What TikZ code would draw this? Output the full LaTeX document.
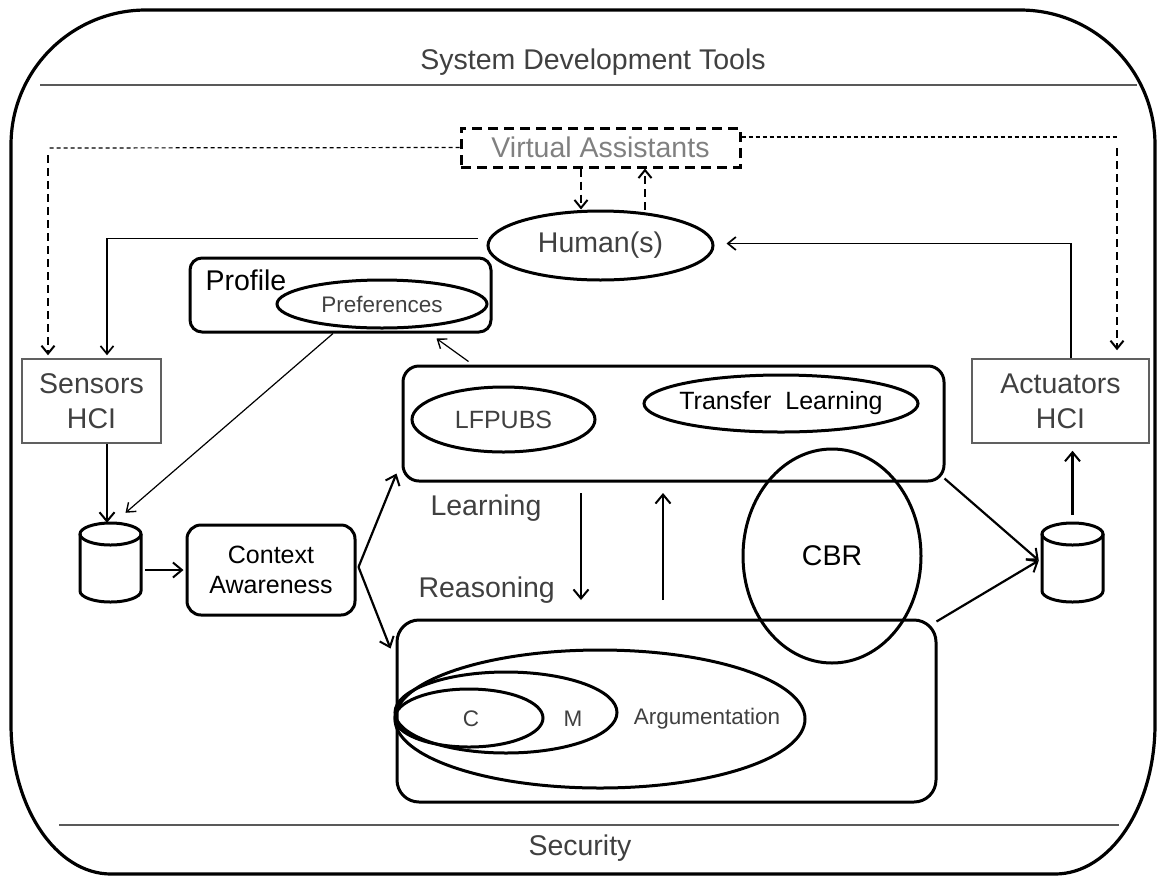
\documentclass[tikz,border=0pt]{standalone}
\usepackage{fontspec}
\setmainfont{Liberation Sans}
\usetikzlibrary{arrows.meta,shapes.geometric,calc}
\definecolor{txt}{HTML}{404040}
\definecolor{vagray}{HTML}{808080}
\definecolor{boxgray}{HTML}{606060}
\definecolor{sepgray}{HTML}{595959}
\newcommand\dbcyl[3]{%
  \node[draw=none, minimum width=61pt, minimum height=79pt, inner sep=0pt] (#1) at (#2,#3) {};
  \draw[line width=3pt] (#2,{#3-28.5}) ellipse [x radius=30.5pt, y radius=11pt];
  \draw[line width=3pt] ({#2-30.5},{#3-28.5}) -- ({#2-30.5},{#3+28.5})
     arc[start angle=180, end angle=360, x radius=30.5pt, y radius=11pt] -- ({#2+30.5},{#3-28.5});
}
\begin{document}
\begin{tikzpicture}[x=1pt,y=-1pt,
  bigtxt/.style={font=\fontsize{28.5}{35}\selectfont, text=txt, align=center},
  midtxt/.style={font=\fontsize{25}{30}\selectfont, align=center},
  smalltxt/.style={font=\fontsize{22.5}{27}\selectfont, text=txt},
  rbox/.style={draw, line width=3pt, rounded corners=#1, inner sep=0pt},
  oval/.style={draw, ellipse, line width=3pt, inner sep=0pt},
  plainbox/.style={draw=boxgray, line width=1.5pt, inner sep=0pt},
  arr/.style={line width=2.2pt, -{Straight Barb[length=9pt,width=15pt,line width=2pt]}},
  medarr/.style={line width=1.5pt, -{Straight Barb[length=8pt,width=13pt,line width=1.7pt]}},
  thinarr/.style={line width=1.2pt, -{Straight Barb[length=8pt,width=12pt,line width=1.4pt]}},
  dthin/.style={line width=1.2pt, dash pattern=on 4pt off 3pt},
  dthick/.style={line width=2.5pt, dash pattern=on 8pt off 5pt, -{Straight Barb[length=8pt,width=13pt,line width=2pt]}},
  sep/.style={draw=sepgray, line width=1.8pt}
]
\useasboundingbox (0,0) rectangle (1158,876);

% outer frame
\draw[line width=3.2pt] (146,10) -- (1020,10) .. controls (1094.6,10) and (1155,70.4) .. (1155,145)
  -- (1155,724) .. controls (1155,806.8) and (1110.2,874) .. (1055,874)
  -- (111,874) .. controls (55.8,874) and (11,806.8) .. (11,724)
  -- (11,145) .. controls (11,70.4) and (71.4,10) .. (146,10) -- cycle;

% separators and titles
\coordinate (s1) at (40,85);
\coordinate (s2) at (1137,85);
\draw[sep] (s1) -- (s2);
\coordinate (b1) at (59,825);
\coordinate (b2) at (1119,825);
\draw[sep] (b1) -- (b2);
\node[bigtxt] (sdt) at (593,62) {System Development Tools};
\node[bigtxt] (sec) at (580,848) {Security};

% virtual assistants and human
\node[draw, line width=3pt, dash pattern=on 10pt off 6pt, minimum width=279pt, minimum height=39pt,
      inner sep=0pt, font=\fontsize{28.5}{35}\selectfont, text=vagray] (va) at (600.5,147.5) {Virtual Assistants};
\node[oval, minimum width=225pt, minimum height=69pt, label={[bigtxt]center:Human(s)}] (human) at (600.5,245.5) {};

% sensors / actuators
\node[plainbox, minimum width=139pt, minimum height=84pt, bigtxt] (sensors) at (91.5,401) {Sensors\\HCI};
\node[plainbox, minimum width=177pt, minimum height=84pt, bigtxt] (actuators) at (1060.5,401) {Actuators\\HCI};

% profile
\node[rbox=12pt, minimum width=301pt, minimum height=74pt] (profile) at (340.5,295) {};
\node[bigtxt, text=black, anchor=base west] (proflbl) at (202,290) {Profile};
\node[oval, minimum width=210pt, minimum height=48pt, label={[smalltxt]center:Preferences}] (prefs) at (382,304) {};

% learning box
\node[rbox=16pt, minimum width=541pt, minimum height=115pt] (learnbox) at (673.5,423.5) {};
\node[oval, minimum width=183pt, minimum height=65pt, label={[midtxt,text=txt]center:LFPUBS}] (lfpubs) at (503.5,419.5) {};
\node[oval, minimum width=274pt, minimum height=57pt, label={[midtxt]center:Transfer\ \ Learning}] (transfer) at (781,403.5) {};

% reasoning box
\node[rbox=22pt, minimum width=539pt, minimum height=182pt] (reasonbox) at (666.5,711) {};
\node[oval, minimum width=410pt, minimum height=138pt] (arg) at (600,719) {};
\node[oval, minimum width=222pt, minimum height=81pt] (mell) at (506,712.5) {};
\node[oval, minimum width=148pt, minimum height=58pt] (cell) at (469,718) {};
\node[smalltxt] (argl) at (707,719) {Argumentation};
\node[smalltxt] (ml) at (573,719) {M};
\node[smalltxt] (cl) at (471,719) {C};

% CBR
\node[oval, minimum width=178pt, minimum height=214pt, label={[bigtxt,text=black]center:CBR}] (cbr) at (832,556) {};

% labels
\node[bigtxt, anchor=base west] (learnl) at (427,515) {Learning};
\node[bigtxt, anchor=base west] (reasl) at (415,597) {Reasoning};

% context awareness
\node[rbox=14pt, minimum width=168pt, minimum height=90pt, midtxt] (ca) at (271,570) {Context\\Awareness};

% databases
\dbcyl{ldb}{110.5}{562.5}
\dbcyl{rdb}{1072.5}{562.5}

% connectors
\coordinate (vl) at (48,148);
\coordinate (vr) at (1117,137);
\draw[dthin] (va.west) -- (vl);
\draw[dthick, shorten >=3pt] ([yshift=-7pt]vl) -- (vl |- sensors.north);
\draw[dthin] ([yshift=10.5pt]va.east) -- (vr);
\draw[dthick, shorten >=8pt] ([yshift=-11pt]vr) -- (vr |- actuators.north);
\draw[dthick] ([xshift=-19.5pt]va.south) -- ([xshift=-19.5pt]va.south |- human.north);
\draw[dthick] ([xshift=44.5pt]va.south |- human.north) -- ([xshift=44.5pt]va.south);

\draw[medarr, shorten >=3pt] ([xshift=-9pt,yshift=7pt]human.west) -| ([xshift=15.5pt]sensors.north);
\draw[medarr] ([xshift=10.5pt]actuators.north) |- ([xshift=12pt,yshift=2pt]human.east);

\draw[arr] ([xshift=15.5pt]sensors.south) -- ([xshift=15.5pt]sensors.south |- ldb.north);
\draw[arr] ([xshift=4pt]ldb.east |- ca.west) -- ([xshift=-2pt]ca.west);
\draw[thinarr] ([xshift=-7.5pt]profile.south) -- ([xshift=15pt,yshift=10pt]ldb.north);
\draw[thinarr] ([xshift=67pt,yshift=3pt]learnbox.north west) -- ([xshift=-56pt,yshift=-5pt]profile.south east);
\draw[arr] ([xshift=2pt,yshift=3pt]ca.east) -- ([xshift=-5pt,yshift=9pt]learnbox.south west);
\draw[arr] ([xshift=2pt,yshift=3pt]ca.east) -- ([xshift=-5pt,yshift=-30pt]reasonbox.north west);
\draw[arr] ([xshift=-1pt,yshift=4pt]learnbox.south east) -- ([xshift=-3pt,yshift=2pt]rdb.west);
\draw[arr] ([xshift=-1pt,yshift=-3pt]reasonbox.north east) -- ([xshift=-3pt,yshift=2pt]rdb.west);
\draw[arr] ([yshift=8pt]rdb.north) -- ([yshift=-7pt]actuators.south -| rdb.north);

\coordinate (d1) at (581,493);
\coordinate (d2) at (581,600);
\coordinate (u1) at (663,600);
\coordinate (u2) at (663,493);
\draw[arr] (d1) -- (d2);
\draw[arr] (u1) -- (u2);
\end{tikzpicture}
\end{document}
